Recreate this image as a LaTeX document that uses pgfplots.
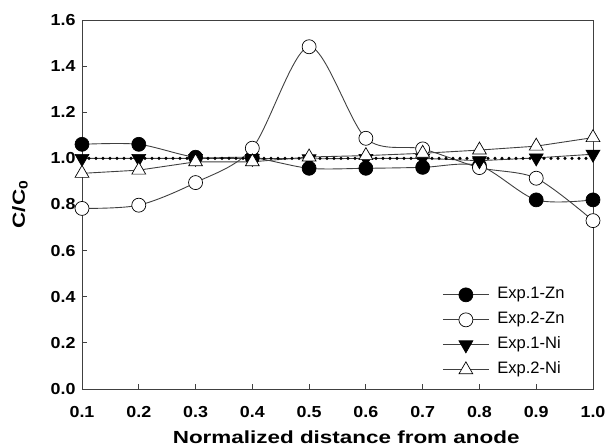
\documentclass[border=0pt]{standalone}
\usepackage{pgfplots}
\pgfplotsset{compat=1.18}
\usepackage{fontspec}
\setmainfont{Liberation Sans}
\newfontfamily\wideb[FakeStretch=1.12]{Liberation Sans Bold}
\newfontfamily\widel[FakeStretch=1.28]{Liberation Sans Bold}
\begin{document}
\begin{tikzpicture}
\begin{axis}[
  name=ax,
  scale only axis, width=511bp, height=369bp,
  xmin=0.1, xmax=1.0, ymin=0, ymax=1.6,
  xtick={0.1,0.2,...,1.0}, ytick={0,0.2,...,1.6},
  tick align=inside, tick pos=left, major tick length=5bp,
  clip=false,
  axis line style={line width=0.9pt, black!75},
  tick style={line width=0.9pt, black!75},
  ticklabel style={/pgf/number format/fixed, /pgf/number format/fixed zerofill,
    /pgf/number format/precision=1, /pgf/number format/assume math mode=true,
    font=\fontsize{16}{18}\wideb},
  xticklabel style={yshift=-14bp},
  yticklabel style={xshift=-3bp},
  xlabel={Normalized distance from anode},
  ylabel={C/C\textsubscript{0}},
  label style={font=\fontsize{17.6}{19}\widel},
  xlabel style={at={(axis description cs:0.517,-0.130)}, anchor=center},
  ylabel style={at={(axis description cs:-0.1213,0.5)}, anchor=center},
  legend style={at={(0.705,0.027)}, anchor=south west, draw=none, fill=none,
    font=\fontsize{16.6}{18}\selectfont, row sep=7bp, inner sep=0pt,
    nodes={inner sep=2bp, text height=11bp, text depth=3bp},
    legend cell align=left},
  legend image code/.code={%
    \draw[mark repeat=2, mark phase=2, #1] plot coordinates {(0bp,0bp) (23bp,0bp) (46bp,0bp)};
    \path (52bp,0bp);},
  every axis plot/.append style={line width=0.9pt, black!75},
]
\addplot[smooth, mark=*, mark size=7bp, mark options={fill=black, draw=black, line width=0.7pt}] coordinates {
(0.1,1.061) (0.2,1.061) (0.3,1.005) (0.4,1.003) (0.5,0.957) (0.6,0.957) (0.7,0.961) (0.8,0.968) (0.9,0.820) (1.0,0.820)};
\addlegendentry{Exp.1-Zn}
\addplot[smooth, mark=*, mark size=7bp, mark options={fill=white, draw=black, line width=0.7pt}] coordinates {
(0.1,0.783) (0.2,0.797) (0.3,0.895) (0.4,1.044) (0.5,1.484) (0.6,1.087) (0.7,1.041) (0.8,0.960) (0.9,0.914) (1.0,0.730)};
\addlegendentry{Exp.2-Zn}
\addplot[mark=triangle*, mark size=8bp, mark options={rotate=180, fill=black, draw=black, line width=0.7pt}] coordinates {
(0.1,1.0) (0.2,1.0) (0.3,1.0) (0.4,1.0) (0.5,0.998) (0.6,1.0) (0.7,1.0) (0.8,0.990) (0.9,1.002) (1.0,1.018)};
\addlegendentry{Exp.1-Ni}
\addplot[mark=triangle*, mark size=8bp, mark options={fill=white, draw=black, line width=0.7pt}] coordinates {
(0.1,0.935) (0.2,0.949) (0.3,0.985) (0.4,0.985) (0.5,1.006) (0.6,1.012) (0.7,1.022) (0.8,1.036) (0.9,1.053) (1.0,1.090)};
\addlegendentry{Exp.2-Ni}
\addplot[forget plot, black, line width=3.3bp, line cap=round, dash pattern=on 0pt off 7bp] coordinates {(0.1,1.0) (1.0,1.0)};
\end{axis}
\pgfresetboundingbox
\path[use as bounding box] (ax.south west) ++(-82bp,-58bp) rectangle ++(607bp,447bp);
\end{tikzpicture}
\end{document}
